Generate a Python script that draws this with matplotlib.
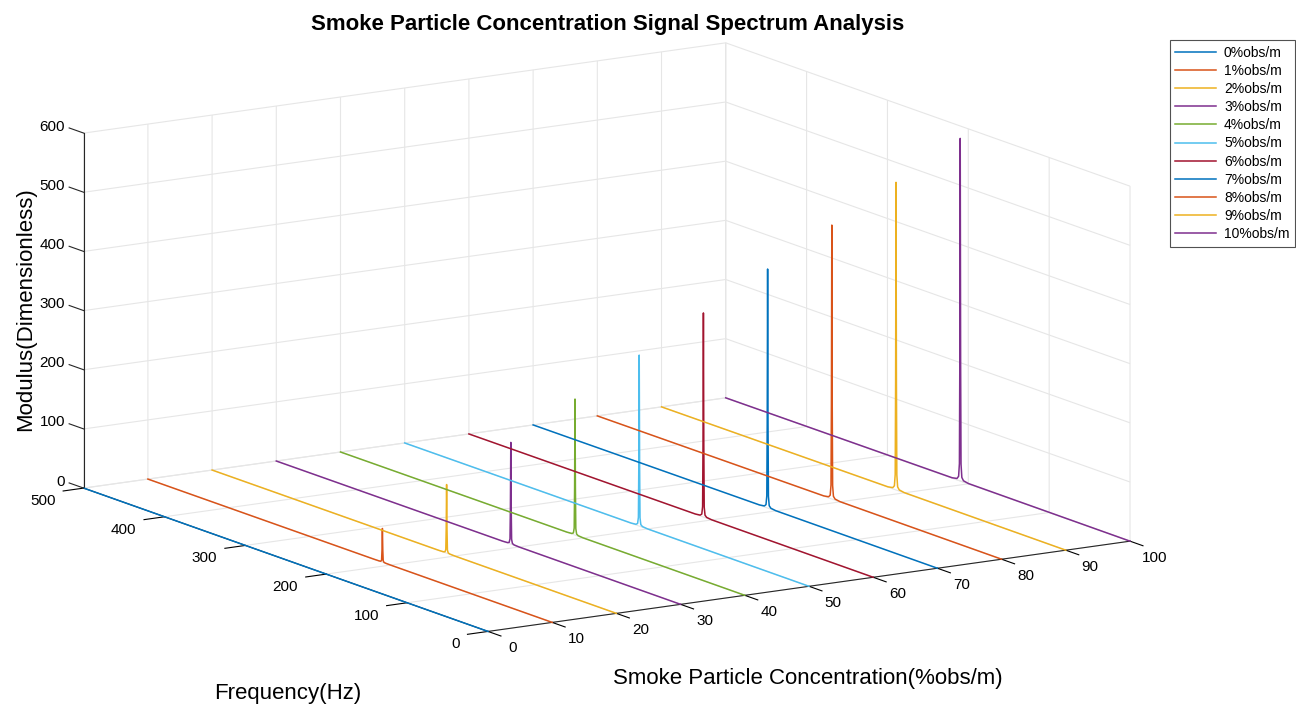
import numpy as np
import matplotlib
matplotlib.use('Agg')
import matplotlib.pyplot as plt

plt.rcParams['font.family'] = ['Liberation Sans', 'DejaVu Sans']

# concentration of each trace (%obs/m on the axis is scaled x10)
conc = [0, 10, 20, 30, 40, 50, 60, 70, 80, 90, 100]
labels = ['0%obs/m', '1%obs/m', '2%obs/m', '3%obs/m', '4%obs/m', '5%obs/m',
          '6%obs/m', '7%obs/m', '8%obs/m', '9%obs/m', '10%obs/m']
peak_heights = [0, 57, 116, 172, 230, 289, 345, 404, 463, 520, 579]
# spectrum shape around the ~210 Hz peak (frequency, fraction of peak)
freq_pts = [0, 200, 206, 208, 209, 209.5, 210, 210.5, 211, 212, 214, 220, 500]
shape_pts = [0, 0.001, 0.004, 0.012, 0.05, 0.35, 1.0, 0.35, 0.05, 0.012, 0.004, 0.001, 0]

xticks = list(range(0, 101, 10))
yticks = list(range(0, 501, 100))
zticks = list(range(0, 601, 100))

colors = ['#0072BD', '#D95319', '#EDB120', '#7E2F8E', '#77AC30', '#4DBEEE',
          '#A2142F', '#0072BD', '#D95319', '#EDB120', '#7E2F8E']
axcol = '#262626'

fig = plt.figure(figsize=(12.96, 7.08), dpi=100)
side = 1100
cx, cy = 592 / 1296, (708 - 352) / 708
w, h = side / 1296, side / 708
ax = fig.add_axes([cx - w / 2, cy - h / 2, w, h], projection='3d')
ax.set_proj_type('ortho')
ax.view_init(elev=12.9, azim=-122.2)
ax.set_box_aspect((1, 1, 0.48), zoom=1.0)

lines = []
for c, hgt, col, lab in zip(conc, peak_heights, colors, labels):
    f = np.array(freq_pts)
    m = hgt * np.array(shape_pts)
    ln, = ax.plot(np.full(len(f), c), f, m, color=col, lw=1.1, label=lab)
    lines.append(ln)

ax.set_xlim(0, 100)
ax.set_ylim(0, 500)
ax.set_zlim(0, 600)
ax.set_xticks(xticks)
ax.set_yticks(yticks)
ax.set_zticks(zticks)

for axis in (ax.xaxis, ax.yaxis, ax.zaxis):
    axis.set_tick_params(labelbottom=False)
    axis.set_pane_color((1, 1, 1, 0))
    axis.pane.set_edgecolor('#e6e6e6')
    axis._axinfo['grid']['color'] = '#e6e6e6'
    axis._axinfo['grid']['linewidth'] = 0.8
    axis._axinfo['tick']['inward_factor'] = 0.4
    axis._axinfo['tick']['outward_factor'] = 0.0
    axis.line.set_color(axcol)
# z ticks point back along the frequency direction, drawn by hand below
ax.zaxis._axinfo['tick']['inward_factor'] = 0.0

for t in zticks:
    ax.plot([0, 0], [500, 518], [t, t], color=axcol, lw=0.8)

# tick labels placed beside the axis lines, like the MATLAB layout
for t in xticks:
    ax.text(t, -30, -14, str(t), ha='center', va='center', fontsize=11)
for t in yticks:
    ax.text(-4.4, t, -15, str(t), ha='right', va='center', fontsize=11)
for t in zticks:
    ax.text(0, 523, t, str(t), ha='right', va='center', fontsize=11)

fig.text(0.469, 0.966, 'Smoke Particle Concentration Signal Spectrum Analysis',
         ha='center', va='center', fontsize=16, fontweight='bold')
fig.text(0.02, 0.5636, 'Modulus(Dimensionless)', rotation=90, ha='center', va='center', fontsize=16)
fig.text(0.222, 0.02, 'Frequency(Hz)', ha='center', va='center', fontsize=16)
fig.text(0.623, 0.042, 'Smoke Particle Concentration(%obs/m)', ha='center', va='center', fontsize=16)

leg = fig.legend(lines, labels, loc='upper right', bbox_to_anchor=(1295 / 1296, 1 - 40 / 708),
                 borderaxespad=0, fontsize=10, frameon=True, fancybox=False, edgecolor=axcol,
                 handlelength=2.9, handletextpad=0.6, labelspacing=0.3, borderpad=0.4)
leg.get_frame().set_linewidth(0.8)

fig.savefig('out.png', dpi=100)
